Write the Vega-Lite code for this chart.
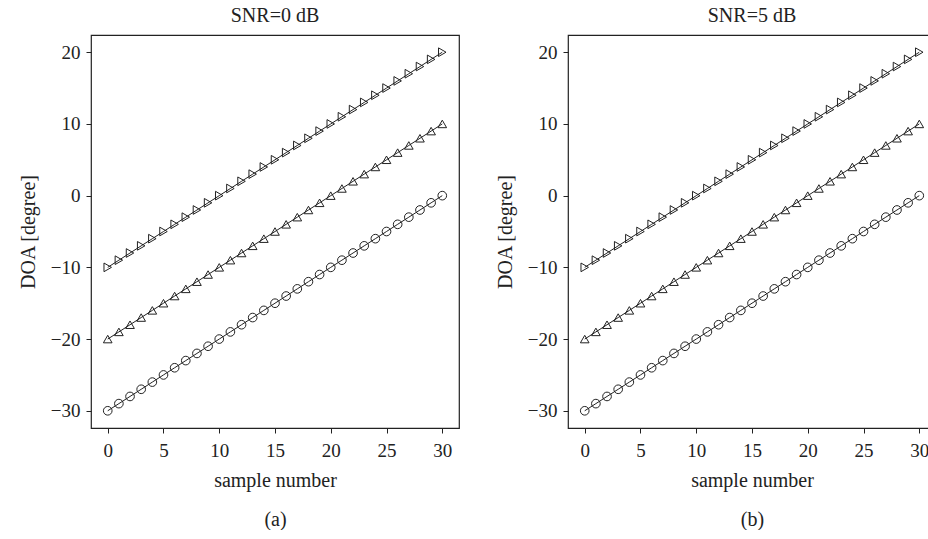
{
  "$schema": "https://vega.github.io/schema/vega-lite/v6.json",
  "padding": {"left": 17, "top": 5, "right": 0, "bottom": 0},
  "background": "white",
  "config": {
    "font": "Liberation Serif",
    "view": {"stroke": "#222", "strokeWidth": 1.2},
    "axis": {"grid": false, "domain": false, "tickColor": "#222", "tickSize": 5, "labelFont": "Liberation Serif", "labelFontSize": 19, "labelColor": "#222", "labelPadding": 6, "titleFont": "Liberation Serif", "titleFontSize": 20, "titleFontWeight": "normal", "titleColor": "#222"},
    "title": {"font": "Liberation Serif", "fontSize": 20, "fontWeight": "normal", "color": "#222", "offset": 9}
  },
  "datasets": {
    "doa": [
      {"sample": 0, "series": "s1", "doa": -30}, {"sample": 1, "series": "s1", "doa": -29}, {"sample": 2, "series": "s1", "doa": -28}, {"sample": 3, "series": "s1", "doa": -27}, {"sample": 4, "series": "s1", "doa": -26}, {"sample": 5, "series": "s1", "doa": -25}, {"sample": 6, "series": "s1", "doa": -24}, {"sample": 7, "series": "s1", "doa": -23}, {"sample": 8, "series": "s1", "doa": -22}, {"sample": 9, "series": "s1", "doa": -21}, {"sample": 10, "series": "s1", "doa": -20}, {"sample": 11, "series": "s1", "doa": -19}, {"sample": 12, "series": "s1", "doa": -18}, {"sample": 13, "series": "s1", "doa": -17}, {"sample": 14, "series": "s1", "doa": -16}, {"sample": 15, "series": "s1", "doa": -15}, {"sample": 16, "series": "s1", "doa": -14}, {"sample": 17, "series": "s1", "doa": -13}, {"sample": 18, "series": "s1", "doa": -12}, {"sample": 19, "series": "s1", "doa": -11}, {"sample": 20, "series": "s1", "doa": -10}, {"sample": 21, "series": "s1", "doa": -9}, {"sample": 22, "series": "s1", "doa": -8}, {"sample": 23, "series": "s1", "doa": -7}, {"sample": 24, "series": "s1", "doa": -6}, {"sample": 25, "series": "s1", "doa": -5}, {"sample": 26, "series": "s1", "doa": -4}, {"sample": 27, "series": "s1", "doa": -3}, {"sample": 28, "series": "s1", "doa": -2}, {"sample": 29, "series": "s1", "doa": -1}, {"sample": 30, "series": "s1", "doa": 0},
      {"sample": 0, "series": "s2", "doa": -20}, {"sample": 1, "series": "s2", "doa": -19}, {"sample": 2, "series": "s2", "doa": -18}, {"sample": 3, "series": "s2", "doa": -17}, {"sample": 4, "series": "s2", "doa": -16}, {"sample": 5, "series": "s2", "doa": -15}, {"sample": 6, "series": "s2", "doa": -14}, {"sample": 7, "series": "s2", "doa": -13}, {"sample": 8, "series": "s2", "doa": -12}, {"sample": 9, "series": "s2", "doa": -11}, {"sample": 10, "series": "s2", "doa": -10}, {"sample": 11, "series": "s2", "doa": -9}, {"sample": 12, "series": "s2", "doa": -8}, {"sample": 13, "series": "s2", "doa": -7}, {"sample": 14, "series": "s2", "doa": -6}, {"sample": 15, "series": "s2", "doa": -5}, {"sample": 16, "series": "s2", "doa": -4}, {"sample": 17, "series": "s2", "doa": -3}, {"sample": 18, "series": "s2", "doa": -2}, {"sample": 19, "series": "s2", "doa": -1}, {"sample": 20, "series": "s2", "doa": 0}, {"sample": 21, "series": "s2", "doa": 1}, {"sample": 22, "series": "s2", "doa": 2}, {"sample": 23, "series": "s2", "doa": 3}, {"sample": 24, "series": "s2", "doa": 4}, {"sample": 25, "series": "s2", "doa": 5}, {"sample": 26, "series": "s2", "doa": 6}, {"sample": 27, "series": "s2", "doa": 7}, {"sample": 28, "series": "s2", "doa": 8}, {"sample": 29, "series": "s2", "doa": 9}, {"sample": 30, "series": "s2", "doa": 10},
      {"sample": 0, "series": "s3", "doa": -10}, {"sample": 1, "series": "s3", "doa": -9}, {"sample": 2, "series": "s3", "doa": -8}, {"sample": 3, "series": "s3", "doa": -7}, {"sample": 4, "series": "s3", "doa": -6}, {"sample": 5, "series": "s3", "doa": -5}, {"sample": 6, "series": "s3", "doa": -4}, {"sample": 7, "series": "s3", "doa": -3}, {"sample": 8, "series": "s3", "doa": -2}, {"sample": 9, "series": "s3", "doa": -1}, {"sample": 10, "series": "s3", "doa": 0}, {"sample": 11, "series": "s3", "doa": 1}, {"sample": 12, "series": "s3", "doa": 2}, {"sample": 13, "series": "s3", "doa": 3}, {"sample": 14, "series": "s3", "doa": 4}, {"sample": 15, "series": "s3", "doa": 5}, {"sample": 16, "series": "s3", "doa": 6}, {"sample": 17, "series": "s3", "doa": 7}, {"sample": 18, "series": "s3", "doa": 8}, {"sample": 19, "series": "s3", "doa": 9}, {"sample": 20, "series": "s3", "doa": 10}, {"sample": 21, "series": "s3", "doa": 11}, {"sample": 22, "series": "s3", "doa": 12}, {"sample": 23, "series": "s3", "doa": 13}, {"sample": 24, "series": "s3", "doa": 14}, {"sample": 25, "series": "s3", "doa": 15}, {"sample": 26, "series": "s3", "doa": 16}, {"sample": 27, "series": "s3", "doa": 17}, {"sample": 28, "series": "s3", "doa": 18}, {"sample": 29, "series": "s3", "doa": 19}, {"sample": 30, "series": "s3", "doa": 20}
    ]
  },
  "spacing": 34,
  "hconcat": [
    {
      "title": "SNR=0 dB",
      "width": 368,
      "height": 393,
      "data": {"name": "doa"},
      "encoding": {
        "x": {"field": "sample", "type": "quantitative", "scale": {"domain": [-1.5, 31.5], "nice": false, "zero": false}, "axis": {"values": [0, 5, 10, 15, 20, 25, 30], "title": ["sample number", "(a)"], "titleLineHeight": 39, "titlePadding": 10, "labelPadding": 8}},
        "y": {"field": "doa", "type": "quantitative", "scale": {"domain": [-32.4, 22.4], "nice": false, "zero": false}, "axis": {"values": [-30, -20, -10, 0, 10, 20], "title": "DOA [degree]", "titlePadding": 12}}
      },
      "layer": [
        {"mark": {"type": "line", "color": "#222", "strokeWidth": 1}, "encoding": {"detail": {"field": "series"}}},
        {"mark": {"type": "point", "filled": false, "color": "#222", "strokeWidth": 1, "size": 75, "opacity": 1}, "encoding": {"shape": {"field": "series", "scale": {"domain": ["s1", "s2", "s3"], "range": ["circle", "triangle-up", "triangle-right"]}, "legend": null}}}
      ]
    },
    {
      "title": "SNR=5 dB",
      "width": 368,
      "height": 393,
      "data": {"name": "doa"},
      "encoding": {
        "x": {"field": "sample", "type": "quantitative", "scale": {"domain": [-1.5, 31.5], "nice": false, "zero": false}, "axis": {"values": [0, 5, 10, 15, 20, 25, 30], "title": ["sample number", "(b)"], "titleLineHeight": 39, "titlePadding": 10, "labelPadding": 8}},
        "y": {"field": "doa", "type": "quantitative", "scale": {"domain": [-32.4, 22.4], "nice": false, "zero": false}, "axis": {"values": [-30, -20, -10, 0, 10, 20], "title": "DOA [degree]", "titlePadding": 12}}
      },
      "layer": [
        {"mark": {"type": "line", "color": "#222", "strokeWidth": 1}, "encoding": {"detail": {"field": "series"}}},
        {"mark": {"type": "point", "filled": false, "color": "#222", "strokeWidth": 1, "size": 75, "opacity": 1}, "encoding": {"shape": {"field": "series", "scale": {"domain": ["s1", "s2", "s3"], "range": ["circle", "triangle-up", "triangle-right"]}, "legend": null}}}
      ]
    }
  ]
}
